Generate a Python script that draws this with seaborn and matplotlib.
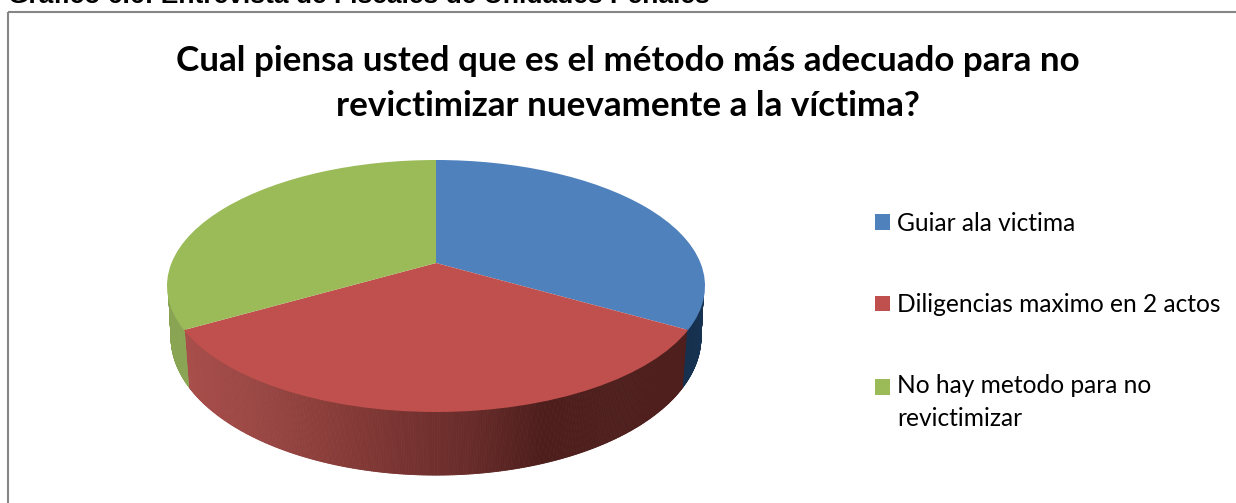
import numpy as np
import matplotlib
matplotlib.use("Agg")
import matplotlib.pyplot as plt
import matplotlib.transforms as mtransforms
from matplotlib.collections import PolyCollection
from matplotlib.patches import Rectangle, Patch
import seaborn as sns

# ---- data ----
categories = ["Guiar ala victima", "Diligencias maximo en 2 actos",
              "No hay metodo para no\nrevictimizar"]
values = [1, 1, 1]
top_colors = ["#4F81BD", "#C0504D", "#9BBB59"]
chart_title = "Cual piensa usted que es el método más adecuado para no\nrevictimizar nuevamente a la víctima?"
caption = "Gráfico 6.6: Entrevista de Fiscales de Unidades Penales"

# ---- geometry of the tilted disc, in output pixels ----
W, H = 1236, 503
HUB_X = 436
TOP = dict(hub_y=263.0, a=264.5, b=121.8, k=0.1825)
BOTTOM = dict(hub_y=315.0, a=261.6, b=134.5, k=0.16)


def project(u, v, g):
    w = 1 + g["k"] * v
    return HUB_X + g["a"] * u / w, g["hub_y"] - g["b"] * v / w


class Tilt(mtransforms.Transform):
    input_dims = 2
    output_dims = 2
    is_separable = False
    has_inverse = False

    def __init__(self, g):
        super().__init__()
        self.g = g

    def transform_non_affine(self, xy):
        xy = np.asarray(xy, dtype=float)
        x, y = project(xy[:, 0], xy[:, 1], self.g)
        return np.column_stack([x, y])


sns.set_theme(style="white")
plt.rcParams["font.family"] = ["Lato", "DejaVu Sans"]

fig = plt.figure(figsize=(W / 100, H / 100), dpi=100, facecolor="white")
ax = fig.add_axes([0, 0, 1, 1])

palette = sns.color_palette(top_colors)
wedges, _ = ax.pie(values, colors=palette, startangle=90, counterclock=False,
                   radius=1, center=(0, 0), wedgeprops=dict(linewidth=0))
ax.set_aspect("auto")
ax.set_xlim(0, W)
ax.set_ylim(H, 0)
ax.set_axis_off()

# side walls: shaded strips between the top rim and the bottom rim
wall_ramps = [
    sns.blend_palette(["#16304E", "#1C3A5C", "#1C3A5C"], 256),
    sns.blend_palette(["#A84E4B", "#9A4744", "#8A3D39", "#783331", "#672B29",
                       "#4C1D1B", "#4E1F1D", "#4E1F1D"], 256),
    sns.blend_palette(["#90AB57", "#84A050", "#8AA655"], 256),
]
polys, face = [], []
for wedge, ramp in zip(wedges, wall_ramps):
    t = np.radians(np.linspace(wedge.theta1, wedge.theta2, 361))
    ux, vy = np.cos(t), np.sin(t)
    tx, ty = project(ux * 0.995, vy * 0.995, TOP)
    bx, by = project(ux, vy, BOTTOM)
    x_lo, x_hi = 190.0, 682.0
    for i in range(len(t) - 1):
        if vy[i] > 0.3 and vy[i + 1] > 0.3:
            continue
        polys.append([(tx[i], ty[i]), (tx[i + 1], ty[i + 1]),
                      (bx[i + 1], by[i + 1]), (bx[i], by[i])])
        if ramp is wall_ramps[1]:
            pos = np.clip((0.5 * (bx[i] + bx[i + 1]) - x_lo) / (x_hi - x_lo), 0, 1)
            face.append(ramp[int(pos * 255)])
        else:
            face.append(ramp[i * 255 // 359])
order = np.argsort([-abs(p[0][0] - HUB_X) for p in polys])
walls = PolyCollection([polys[i] for i in order], facecolors=[face[i] for i in order],
                       edgecolors="face", linewidths=0.6, zorder=1)
ax.add_collection(walls)

for wedge in wedges:
    wedge.set_transform(Tilt(TOP) + ax.transData)
    wedge.set_zorder(2)
    wedge.set_clip_on(False)

# frame (only its top and left sides fall inside the picture)
ax.add_patch(Rectangle((8, 12), W + 40, H + 40, fill=False, edgecolor="#868686",
                       linewidth=1.5, zorder=0, clip_on=False))

ax.text(628, 83.5, chart_title, ha="center", va="center", fontsize=25.2,
        fontweight="bold", color="black", linespacing=1.5)
ax.text(8, 2.5, caption, ha="left", va="baseline", fontsize=19,
        fontweight="bold", color="black", family=["Liberation Sans"])

handles = [Patch(facecolor=c, edgecolor="none") for c in palette]
leg = ax.legend(handles, categories, loc="upper left",
                bbox_to_anchor=(874.5 / W, 1 - 212 / H), frameon=False,
                fontsize=17.65, handlelength=0.612, handleheight=0.612,
                handletextpad=0.3, labelspacing=2.37, borderpad=0, borderaxespad=0,
                labelcolor="black")
for txt in leg.get_texts():
    txt.set_linespacing(1.49)
leg.legend_handles[2].set_y(leg.legend_handles[2].get_y() + 11.5)

fig.savefig("out.png", dpi=100, facecolor="white")
